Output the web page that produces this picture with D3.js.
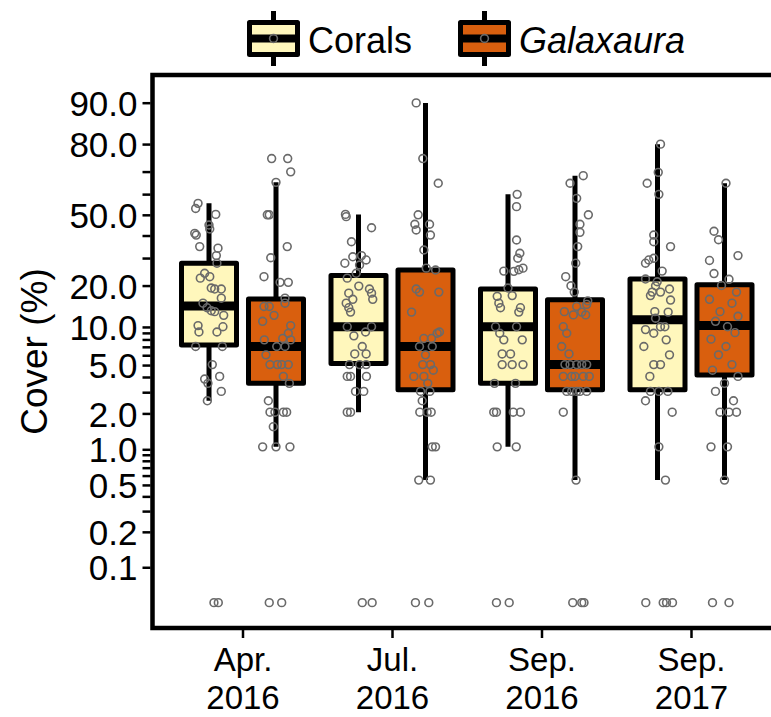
<!DOCTYPE html>
<html>
<head>
<meta charset="utf-8">
<script src="https://cdn.jsdelivr.net/npm/d3@7.9.0/dist/d3.min.js"></script>
<style>
  body { margin: 0; background: #fff; }
  svg text { font-family: "Liberation Sans", Arial, sans-serif; fill: #000; }
</style>
</head>
<body>
<svg id="chart" width="771" height="717"></svg>
<script>
// sampling dates (x categories)
const dates = ['Apr. 2016', 'Jul. 2016', 'Sep. 2016', 'Sep. 2017'];
const groups = ['Corals', 'Galaxaura'];

// y axis ticks (% cover, logit scale)
const majorTicks = [0.1, 0.2, 0.5, 1, 2, 5, 10, 20, 50, 80, 90];
const minorTicks = [0.3, 0.4, 0.6, 0.7, 0.8, 0.9, 3, 4, 6, 7, 8, 9, 30, 40, 60, 70];

// box stats per date: [lower whisker, q1, median, q3, upper whisker]
const coralStats = [
  [2.5, 7.2, 14.3, 27.9, 55.6],
  [2.0, 5.1, 10.0, 23.3, 50.2],
  [1.0, 3.5, 10.0, 18.9, 59.9],
  [0.5, 3.1, 11.3, 22.1, 80.0]
];
const galaxStats = [
  [1.0, 3.5, 7.0, 16.1, 65.4],
  [0.5, 3.1, 7.0, 25.3, 90.0],
  [0.5, 3.1, 5.0, 15.9, 68.3],
  [0.5, 4.1, 10.2, 20.2, 65.0]
];

// quadrat values [cover %, jitter]
const coralApr16 = [[55.6,-0.73],[53.1,-0.89],[50.2,0.45],[45,0],[43.1,0.05],[41,-0.95],[40.2,-0.85],[34.9,-0.62],[34.2,0.6],[31,0.49],[27.9,0.53],[24.1,-0.29],[22.4,-0.58],[22.9,0.05],[19.2,0.15],[18.9,0.38],[18.9,0.82],[16.3,0.82],[15,-0.4],[13.9,-0.13],[13.2,0.15],[13,0.38],[12.2,0.98],[10.2,-0.73],[9.1,-0.67],[10,0.93],[9.1,0.53],[7,-0.89],[7,0.89],[5,0.22],[4,0.71],[3.8,-0.29],[3.5,-0.07],[3,0.82],[2.5,-0.11],[0,0.33],[0,0.62]];
const galaxApr16 = [[75.1,-0.29],[75.1,0.78],[69.9,0.98],[65.4,0],[50,-0.58],[50,-0.45],[34.9,0.75],[30.1,-0.35],[22.9,-0.8],[21,0.27],[21,0.82],[16.3,0.6],[15,0.6],[14.2,-0.8],[14.2,-0.45],[12.2,-0.13],[11,-0.89],[10.2,0.98],[8.9,0.82],[8.1,0.45],[7.9,-0.78],[7.9,0.98],[7,0.05],[7,0.6],[6,-0.67],[5,-0.4],[5,0.09],[5,0.38],[5,0.82],[4,0.49],[3.5,0.89],[2.5,-0.51],[2,-0.4],[2,-0.07],[2,0.49],[2,0.71],[1.5,-0.18],[1,-0.89],[1,0],[1,0.93],[0,-0.45],[0,0.38]];
const coralJul16 = [[50.2,-0.87],[49.1,-0.82],[43.7,0.87],[37.1,-0.47],[30.5,-0.38],[31,0.2],[29.2,0.51],[27.9,-0.91],[27.2,0.07],[24.1,-0.15],[22.4,-0.75],[19.8,0.02],[18.9,0.73],[17.7,-0.65],[17.7,0.87],[16,0.95],[16,-0.38],[15,-0.82],[13.9,-0.65],[12.9,-0.53],[10,-0.75],[10,0.87],[9.1,0.47],[8.5,-0.31],[7,0.25],[6.1,-0.25],[6.1,0.51],[5,-0.6],[5,0.07],[5,0.51],[4,-0.75],[4,-0.53],[4,0.53],[3,-0.2],[3,0.35],[2,-0.75],[2,-0.53],[0,0.25],[0,0.91]];
const galaxJul16 = [[90,-0.62],[75.1,-0.18],[65,0.85],[50,-0.49],[45.4,-0.71],[42.6,-0.62],[45.4,0.27],[40.2,0.33],[33.4,-0.11],[26,0.05],[25.3,0.67],[18.9,-0.62],[18,-0.4],[18,0.89],[12.9,-0.93],[9.1,0.93],[8.9,0.78],[8.1,-0.11],[8.1,0.4],[7,-0.4],[7,0.45],[6,0],[5,-0.18],[5,0.33],[4.5,0.52],[4,-0.78],[4,-0.11],[3.5,0.15],[3,-0.33],[3,0.29],[2.5,-0.22],[2,-0.38],[2,0.11],[2,0.38],[1,0.45],[1,0.67],[0.5,-0.45],[0.5,0.33],[0,-0.67],[0,0.22]];
const coralSep16 = [[59.9,0.61],[54,0.57],[37.9,0.57],[32,0.79],[29.9,0.65],[24.9,-0.28],[24.8,0.39],[25.4,0.72],[26,1],[19.2,0],[17,0.28],[16.8,-0.72],[15,-0.61],[13.9,-0.5],[13.9,0.83],[12.9,0.72],[10,-0.83],[10,0.57],[8.9,-0.55],[7.9,-0.28],[7.9,0.95],[6.1,-0.39],[6.1,0.17],[5,-0.39],[5,0.28],[5,1],[3.5,-0.9],[3.5,0.5],[2,-0.95],[2,-0.77],[2,0.35],[2,0.83],[1,-0.72],[1,0.55],[0,-0.77],[0,0.08]];
const galaxSep16 = [[68.3,0.55],[65,-0.33],[58,0.11],[50,0.89],[45.4,0.33],[41.5,0.33],[34.9,0.18],[27.9,0.05],[22.9,-0.62],[19.9,-0.27],[18,-0.05],[15.6,0.85],[14.7,0.78],[13,-0.71],[14.2,0.11],[12.3,-0.11],[12.9,0.45],[12.3,0.71],[10,-0.78],[8.9,-0.55],[7,-0.89],[6.1,-0.4],[5,-0.67],[5,-0.33],[5,0.11],[5,0.45],[5,0.78],[4,-0.78],[4,-0.22],[4,0],[4,0.55],[4,0.95],[3,-0.55],[3,-0.22],[3,0.11],[3,0.33],[3,0.78],[2,-0.78],[0.5,0.07],[0,-0.15],[0,0.45],[0,0.6]];
const coralSep17 = [[80,0.2],[69.7,0.05],[65,-0.69],[59.9,0.09],[40.2,-0.25],[37.1,-0.25],[34.9,0.87],[27.9,-0.8],[29.2,-0.58],[29.9,-0.25],[24.9,0.31],[22.1,-0.8],[21.2,-0.02],[18,-0.35],[18,0.2],[19.9,-0.13],[18.9,0.8],[15.8,0.87],[17,-0.47],[13,-0.18],[12.9,0.71],[11.6,-0.13],[9.5,-0.8],[8.9,-0.25],[10,0.2],[10,0.49],[7.9,0.58],[7,-0.91],[6,0.8],[5,-0.25],[5,0.2],[4,-0.51],[3,-0.47],[3,0.09],[3,0.69],[2.5,-0.8],[2,0.98],[1,0.09],[0.5,0.53],[0,-0.78],[0,0.38],[0,0.6],[0,1]];
const galaxSep17 = [[65,0.1],[42,-0.7],[38,-0.4],[31,0.9],[29,-1],[24,-0.7],[22,0.3],[20,-0.2],[18,0.8],[16,-1],[15,0.5],[13,-0.3],[12,0.9],[11,-0.6],[10,0.2],[9,0.7],[8,-0.9],[7,0.1],[6,-0.4],[5,0.5],[4.5,-0.8],[4,0.9],[3.5,0],[3,-0.6],[2.5,0.6],[2,-0.3],[2,0.3],[2,0.8],[1,-0.9],[1,0.2],[0.5,0],[0,-0.8],[0,0.3]];

const coralPoints = [coralApr16, coralJul16, coralSep16, coralSep17];
const galaxPoints = [galaxApr16, galaxJul16, galaxSep16, galaxSep17];

const fills = { Corals: '#FFF7BC', Galaxaura: '#D95F0E' };

const svg = d3.select('#chart');
const panel = { left: 152.5, top: 75, right: 781, bottom: 628 };

// logit transform; zeros are nudged in like car::logit
const logit = q => Math.log(q / (1 - q));
const adj = v => 0.0005 + 0.999 * v / 100;

const y = d3.scaleLinear().domain([-8.097, 2.740]).range([panel.bottom, panel.top]);
const yVal = v => y(logit(adj(v)));

const x = d3.scalePoint().domain(dates).range([242.5, 691]);
const xSub = d3.scaleBand().domain(groups).range([-67, 67]);
const boxW = 55;
const jitterW = 15;

// panel border
svg.append('rect')
    .attr('x', panel.left).attr('y', panel.top)
    .attr('width', panel.right - panel.left).attr('height', panel.bottom - panel.top)
    .attr('fill', 'none').attr('stroke', '#000').attr('stroke-width', 4.5);

// y axis (major + minor ticks)
const yAxis = svg.append('g').attr('transform', `translate(${panel.left - 2},0)`)
    .call(d3.axisLeft(y)
        .tickValues(majorTicks.map(t => logit(t / 100)))
        .tickFormat((d, i) => majorTicks[i].toFixed(1))
        .tickSize(8).tickPadding(5));
yAxis.select('.domain').remove();
yAxis.selectAll('.tick line').attr('stroke-width', 2.5);
yAxis.selectAll('.tick text').attr('font-size', 35).attr('dy', '0.36em')
    .style('font-family', '"Liberation Sans", Arial, sans-serif');

const yMinor = svg.append('g').attr('transform', `translate(${panel.left - 2},0)`)
    .call(d3.axisLeft(y)
        .tickValues(minorTicks.map(t => logit(t / 100)))
        .tickFormat('').tickSize(8));
yMinor.select('.domain').remove();
yMinor.selectAll('.tick line').attr('stroke-width', 2.5);

svg.append('text')
    .attr('transform', `translate(34,${(panel.top + panel.bottom) / 2}) rotate(-90)`)
    .attr('text-anchor', 'middle').attr('dy', '0.36em')
    .attr('font-size', 37)
    .text('Cover (%)');

// x axis
const xAxis = svg.append('g').attr('transform', `translate(0,${panel.bottom + 2})`)
    .call(d3.axisBottom(x).tickSize(8).tickFormat(''));
xAxis.select('.domain').remove();
xAxis.selectAll('.tick line').attr('stroke-width', 2.5);
xAxis.selectAll('.tick').each(function(d) {
  const parts = d.split(' ');
  const t = d3.select(this).append('text')
      .attr('text-anchor', 'middle').attr('font-size', 33)
      .style('font-family', '"Liberation Sans", Arial, sans-serif').attr('fill', '#000');
  t.append('tspan').attr('x', 0).attr('y', 41).text(parts[0]);
  t.append('tspan').attr('x', 0).attr('y', 79).text(parts[1]);
});

// boxes
function drawBoxes(stats, group) {
  stats.forEach((s, i) => {
    const cx = x(dates[i]) + xSub(group) + xSub.bandwidth() / 2;
    const g = svg.append('g');
    g.append('line')
        .attr('x1', cx).attr('x2', cx)
        .attr('y1', yVal(s[0])).attr('y2', yVal(s[4]))
        .attr('stroke', '#000').attr('stroke-width', 5);
    g.append('rect')
        .attr('x', cx - boxW / 2).attr('width', boxW)
        .attr('y', yVal(s[3])).attr('height', yVal(s[1]) - yVal(s[3]))
        .attr('fill', fills[group]).attr('stroke', '#000')
        .attr('stroke-width', 5).attr('stroke-linejoin', 'round');
    g.append('line')
        .attr('x1', cx - boxW / 2).attr('x2', cx + boxW / 2)
        .attr('y1', yVal(s[2])).attr('y2', yVal(s[2]))
        .attr('stroke', '#000').attr('stroke-width', 9);
  });
}
drawBoxes(coralStats, 'Corals');
drawBoxes(galaxStats, 'Galaxaura');

// jittered points
function drawPoints(sets, group) {
  sets.forEach((pts, i) => {
    const cx = x(dates[i]) + xSub(group) + xSub.bandwidth() / 2;
    svg.append('g').selectAll('circle').data(pts).join('circle')
        .attr('cx', d => cx + d[1] * jitterW)
        .attr('cy', d => yVal(d[0]))
        .attr('r', 3.9)
        .attr('fill', 'none').attr('stroke', '#6a6a6a').attr('stroke-width', 1.6);
  });
}
drawPoints(coralPoints, 'Corals');
drawPoints(galaxPoints, 'Galaxaura');

// legend
const legend = svg.append('g');
const legendItems = [
  { key: 'Corals', x: 249.5, label: 'Corals', italic: false },
  { key: 'Galaxaura', x: 460.5, label: 'Galaxaura', italic: true }
];
legendItems.forEach(it => {
  const kx = it.x, kw = 48, ky = 22.5, kh = 32;
  const mx = kx + kw / 2;
  legend.append('line').attr('x1', mx).attr('x2', mx).attr('y1', 11).attr('y2', 66)
      .attr('stroke', '#000').attr('stroke-width', 5);
  legend.append('rect').attr('x', kx).attr('y', ky).attr('width', kw).attr('height', kh)
      .attr('fill', fills[it.key]).attr('stroke', '#000').attr('stroke-width', 5)
      .attr('stroke-linejoin', 'round');
  legend.append('line').attr('x1', kx).attr('x2', kx + kw).attr('y1', ky + kh / 2).attr('y2', ky + kh / 2)
      .attr('stroke', '#000').attr('stroke-width', 8);
  legend.append('circle').attr('cx', mx).attr('cy', ky + kh / 2).attr('r', 3.9)
      .attr('fill', 'none').attr('stroke', '#6a6a6a').attr('stroke-width', 1.6);
  legend.append('text').attr('x', kx + kw + 10.5).attr('y', 53)
      .attr('font-size', 36).style('font-style', it.italic ? 'italic' : 'normal')
      .text(it.label);
});
</script>
</body>
</html>
